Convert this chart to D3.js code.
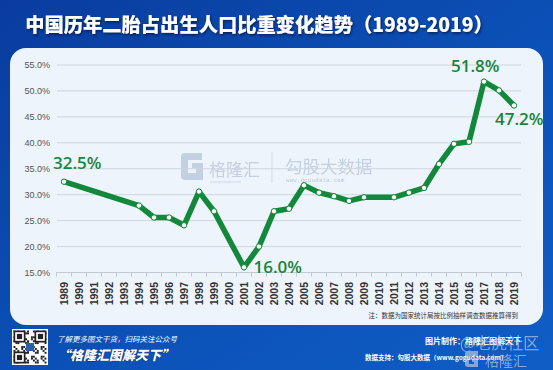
<!DOCTYPE html>
<html><head><meta charset="utf-8">
<script src="https://cdn.jsdelivr.net/npm/d3@7/dist/d3.min.js"></script>
<style>
html,body{margin:0;padding:0;background:#0b4fb3;}
svg{display:block;}
</style></head>
<body>
<svg id="chart" width="553" height="370"></svg>
<script>
const title = "中国历年二胎占出生人口比重变化趋势（1989-2019）";
const years = d3.range(1989, 2020).map(String);
const dataYears = ["1989","1994","1995","1996","1997","1998","1999","2001","2002","2003","2004","2005","2006","2007","2008","2009","2011","2012","2013","2014","2015","2016","2017","2018","2019"];
const dataValues = [32.5,27.9,25.6,25.6,24.1,30.6,26.8,16.0,20.0,26.8,27.3,31.8,30.4,29.7,28.8,29.5,29.5,30.4,31.3,35.9,39.8,40.2,51.8,50.1,47.2];
const yTicks = [15,20,25,30,35,40,45,50,55];
const labeled = [
  {year:"1989", text:"32.5%", dx:-11, dy:-13},
  {year:"2001", text:"16.0%", dx:9.5, dy:5.5},
  {year:"2017", text:"51.8%", dx:-33, dy:-10},
  {year:"2019", text:"47.2%", dx:-19, dy:20}
];
const note = "注：数据为国家统计局按比例抽样调查数据推算得到";

const svg = d3.select("#chart");
const defs = svg.append("defs");
const bg = defs.append("linearGradient").attr("id","bg").attr("x1","0").attr("y1","0").attr("x2","1").attr("y2","1");
bg.append("stop").attr("offset","0").attr("stop-color","#0a3c9e");
bg.append("stop").attr("offset","0.5").attr("stop-color","#0b4fb5");
bg.append("stop").attr("offset","1").attr("stop-color","#0f5ec6");
const sh = defs.append("filter").attr("id","tsh").attr("x","-5%").attr("y","-20%").attr("width","110%").attr("height","150%");
sh.append("feDropShadow").attr("dx",1).attr("dy",1.5).attr("stdDeviation",1).attr("flood-color","#02143f").attr("flood-opacity",0.8);

svg.append("rect").attr("width",553).attr("height",370).attr("fill","url(#bg)");
// panel
svg.append("rect").attr("x",10).attr("y",48).attr("width",533).attr("height",277).attr("rx",16).attr("fill","#eef4fb");

// title
svg.append("text").attr("x",259).attr("y",32).attr("text-anchor","middle")
  .attr("font-family","'Noto Sans CJK SC', sans-serif").attr("font-weight",900).attr("font-size",19.3)
  .attr("fill","#ffffff").attr("filter","url(#tsh)").text(title);

const x = d3.scaleBand().domain(years).range([56.5,521.5]).padding(0);
const y = d3.scaleLinear().domain([15,55]).range([272.5,65]);
const cx = d => x(d) + x.bandwidth()/2;

// watermark
const wm = svg.append("g").attr("opacity",0.55);
wm.append("path").attr("d","M181,157 q0,-4 4,-4 h17 v7 h-14 v13 h8 v-5 h-4 v-5 h11 v17 h-18 q-4,0 -4,-4 z").attr("fill","#9fb3cc");
wm.append("text").attr("x",209).attr("y",176).attr("font-family","'Noto Sans CJK SC'").attr("font-size",17).attr("fill","#9fb3cc").text("格隆汇");
wm.append("text").attr("x",210).attr("y",183).attr("font-family","Liberation Sans").attr("font-size",3.5).attr("fill","#9fb3cc").text("www.gelonghui.com");
wm.append("line").attr("x1",272).attr("x2",272).attr("y1",152).attr("y2",183).attr("stroke","#b9c7d8").attr("stroke-width",1);
wm.append("text").attr("x",285).attr("y",173).attr("font-family","'Noto Sans CJK SC'").attr("font-size",17.5).attr("fill","#9fb3cc").text("勾股大数据");
wm.append("text").attr("x",286).attr("y",182).attr("font-family","DejaVu Sans Mono").attr("font-size",5.6).attr("letter-spacing",0.3).attr("fill","#8aa0bb").text("www.gogudata.com");

// grid + y labels
svg.append("g").selectAll("line").data(yTicks.filter(t=>t>15)).join("line")
  .attr("x1",57).attr("x2",521).attr("y1",d=>y(d)).attr("y2",d=>y(d))
  .attr("stroke","#cdd5de").attr("stroke-width",1);
svg.append("g").selectAll("text").data(yTicks).join("text")
  .attr("x",50).attr("y",d=>y(d)+3.3).attr("text-anchor","end")
  .attr("font-family","'Liberation Sans', Arial").attr("font-size",9).attr("fill","#555")
  .text(d=>d.toFixed(1)+"%");

// x axis
const xa = svg.append("g").attr("transform","translate(0,272.5)");
xa.append("line").attr("x1",56.5).attr("x2",521.5).attr("stroke","#c3c9d0").attr("stroke-width",1);
xa.selectAll("line.tk").data(years.concat(["end"])).join("line").attr("class","tk")
  .attr("x1",d=>d==="end"?521.5:x(d)).attr("x2",d=>d==="end"?521.5:x(d)).attr("y1",0).attr("y2",4)
  .attr("stroke","#c3c9d0");
svg.append("g").selectAll("text").data(years).join("text")
  .attr("transform",d=>`translate(${cx(d)+3.8},282) rotate(-90)`)
  .attr("text-anchor","end").attr("font-family","'Liberation Sans', Arial").attr("font-weight",700)
  .attr("font-size",10.5).attr("fill","#333").text(d=>d);

// line
const pts = dataYears.map((yr,i)=>({year:yr, v:dataValues[i]}));
const line = d3.line().x(d=>cx(d.year)).y(d=>y(d.v));
svg.append("path").datum(pts).attr("d",line).attr("fill","none")
  .attr("stroke","#12883a").attr("stroke-width",5.5).attr("stroke-linejoin","round").attr("stroke-linecap","round");
svg.append("g").selectAll("circle").data(pts).join("circle")
  .attr("cx",d=>cx(d.year)).attr("cy",d=>y(d.v)).attr("r",2.7)
  .attr("fill","#ffffff").attr("stroke","#12883a").attr("stroke-width",1);

// data labels
svg.append("g").selectAll("text").data(labeled).join("text")
  .attr("x",d=>cx(d.year)+d.dx).attr("y",d=>{const p=pts.find(q=>q.year===d.year);return y(p.v)+d.dy;})
  .attr("font-family","'Open Sans', sans-serif").attr("font-size",17).attr("font-weight",600)
  .attr("fill","#16863a").text(d=>d.text);

// note
svg.append("text").attr("x",518).attr("y",318).attr("text-anchor","end")
  .attr("font-family","'Noto Sans CJK SC'").attr("font-size",6.5).attr("fill","#333").text(note);

// footer: QR code
const qr = svg.append("g").attr("transform","translate(12,329)");
qr.append("rect").attr("width",36).attr("height",36).attr("fill","#fff");
const mods = [];
for(let r=0;r<17;r++) for(let c=0;c<17;c++){ if(((r*7+c*13+r*c)%5)<2) mods.push([r,c]); }
qr.selectAll("rect.m").data(mods).join("rect").attr("class","m")
  .attr("x",d=>1.5+d[1]*1.94).attr("y",d=>1.5+d[0]*1.94).attr("width",1.94).attr("height",1.94).attr("fill","#222");
[[1.5,1.5],[22.5,1.5],[1.5,22.5]].forEach(p=>{
  qr.append("rect").attr("x",p[0]).attr("y",p[1]).attr("width",12).attr("height",12).attr("fill","#222");
  qr.append("rect").attr("x",p[0]+1.7).attr("y",p[1]+1.7).attr("width",8.6).attr("height",8.6).attr("fill","#fff");
  qr.append("rect").attr("x",p[0]+3.4).attr("y",p[1]+3.4).attr("width",5.2).attr("height",5.2).attr("fill","#222");
});
qr.append("rect").attr("x",14).attr("y",14).attr("width",8).attr("height",8).attr("fill","#2a5fb0");

svg.append("text").attr("x",57).attr("y",342).attr("font-family","'Noto Sans CJK SC'").attr("font-size",7.5)
  .attr("font-style","italic").attr("fill","#ffffff").text("了解更多图文干货，扫码关注公众号");
svg.append("text").attr("x",57).attr("y",360).attr("font-family","'Noto Sans CJK SC'").attr("font-size",13)
  .attr("font-weight",900).attr("font-style","italic").attr("fill","#ffffff")
  .attr("stroke","#0a2a6a").attr("stroke-width",0.8).attr("paint-order","stroke").text("“格隆汇图解天下”");

svg.append("text").attr("x",425).attr("y",344).attr("font-family","'Noto Sans CJK SC'").attr("font-size",8)
  .attr("font-weight",700).attr("fill","#ffffff").text("图片制作：格隆汇图解天下");
svg.append("text").attr("x",365).attr("y",360).attr("font-family","'Noto Sans CJK SC'").attr("font-size",6.5)
  .attr("font-weight",700).attr("fill","#ffffff").text("数据支持：勾股大数据（www.gogudata.com）");

// overlay watermark (overlaps footer text, as in the reference)
const ow = svg.append("g").attr("opacity",0.6);
ow.append("text").attr("x",460).attr("y",349).attr("font-family","'Noto Sans CJK SC'").attr("font-size",16)
  .attr("fill","#d0d8e8").text("@老虎社区");
ow.append("path").attr("d","M478,351 h-10 q-3,0 -3,3 v10 q0,3 3,3 h10 v-8 h-6 v3 h2 v2 h-5 v-8 h9 z").attr("fill","#d0d8e8");
ow.append("text").attr("x",485).attr("y",366).attr("font-family","'Noto Sans CJK SC'").attr("font-size",14)
  .attr("fill","#d0d8e8").text("格隆汇");
</script>
</body></html>
